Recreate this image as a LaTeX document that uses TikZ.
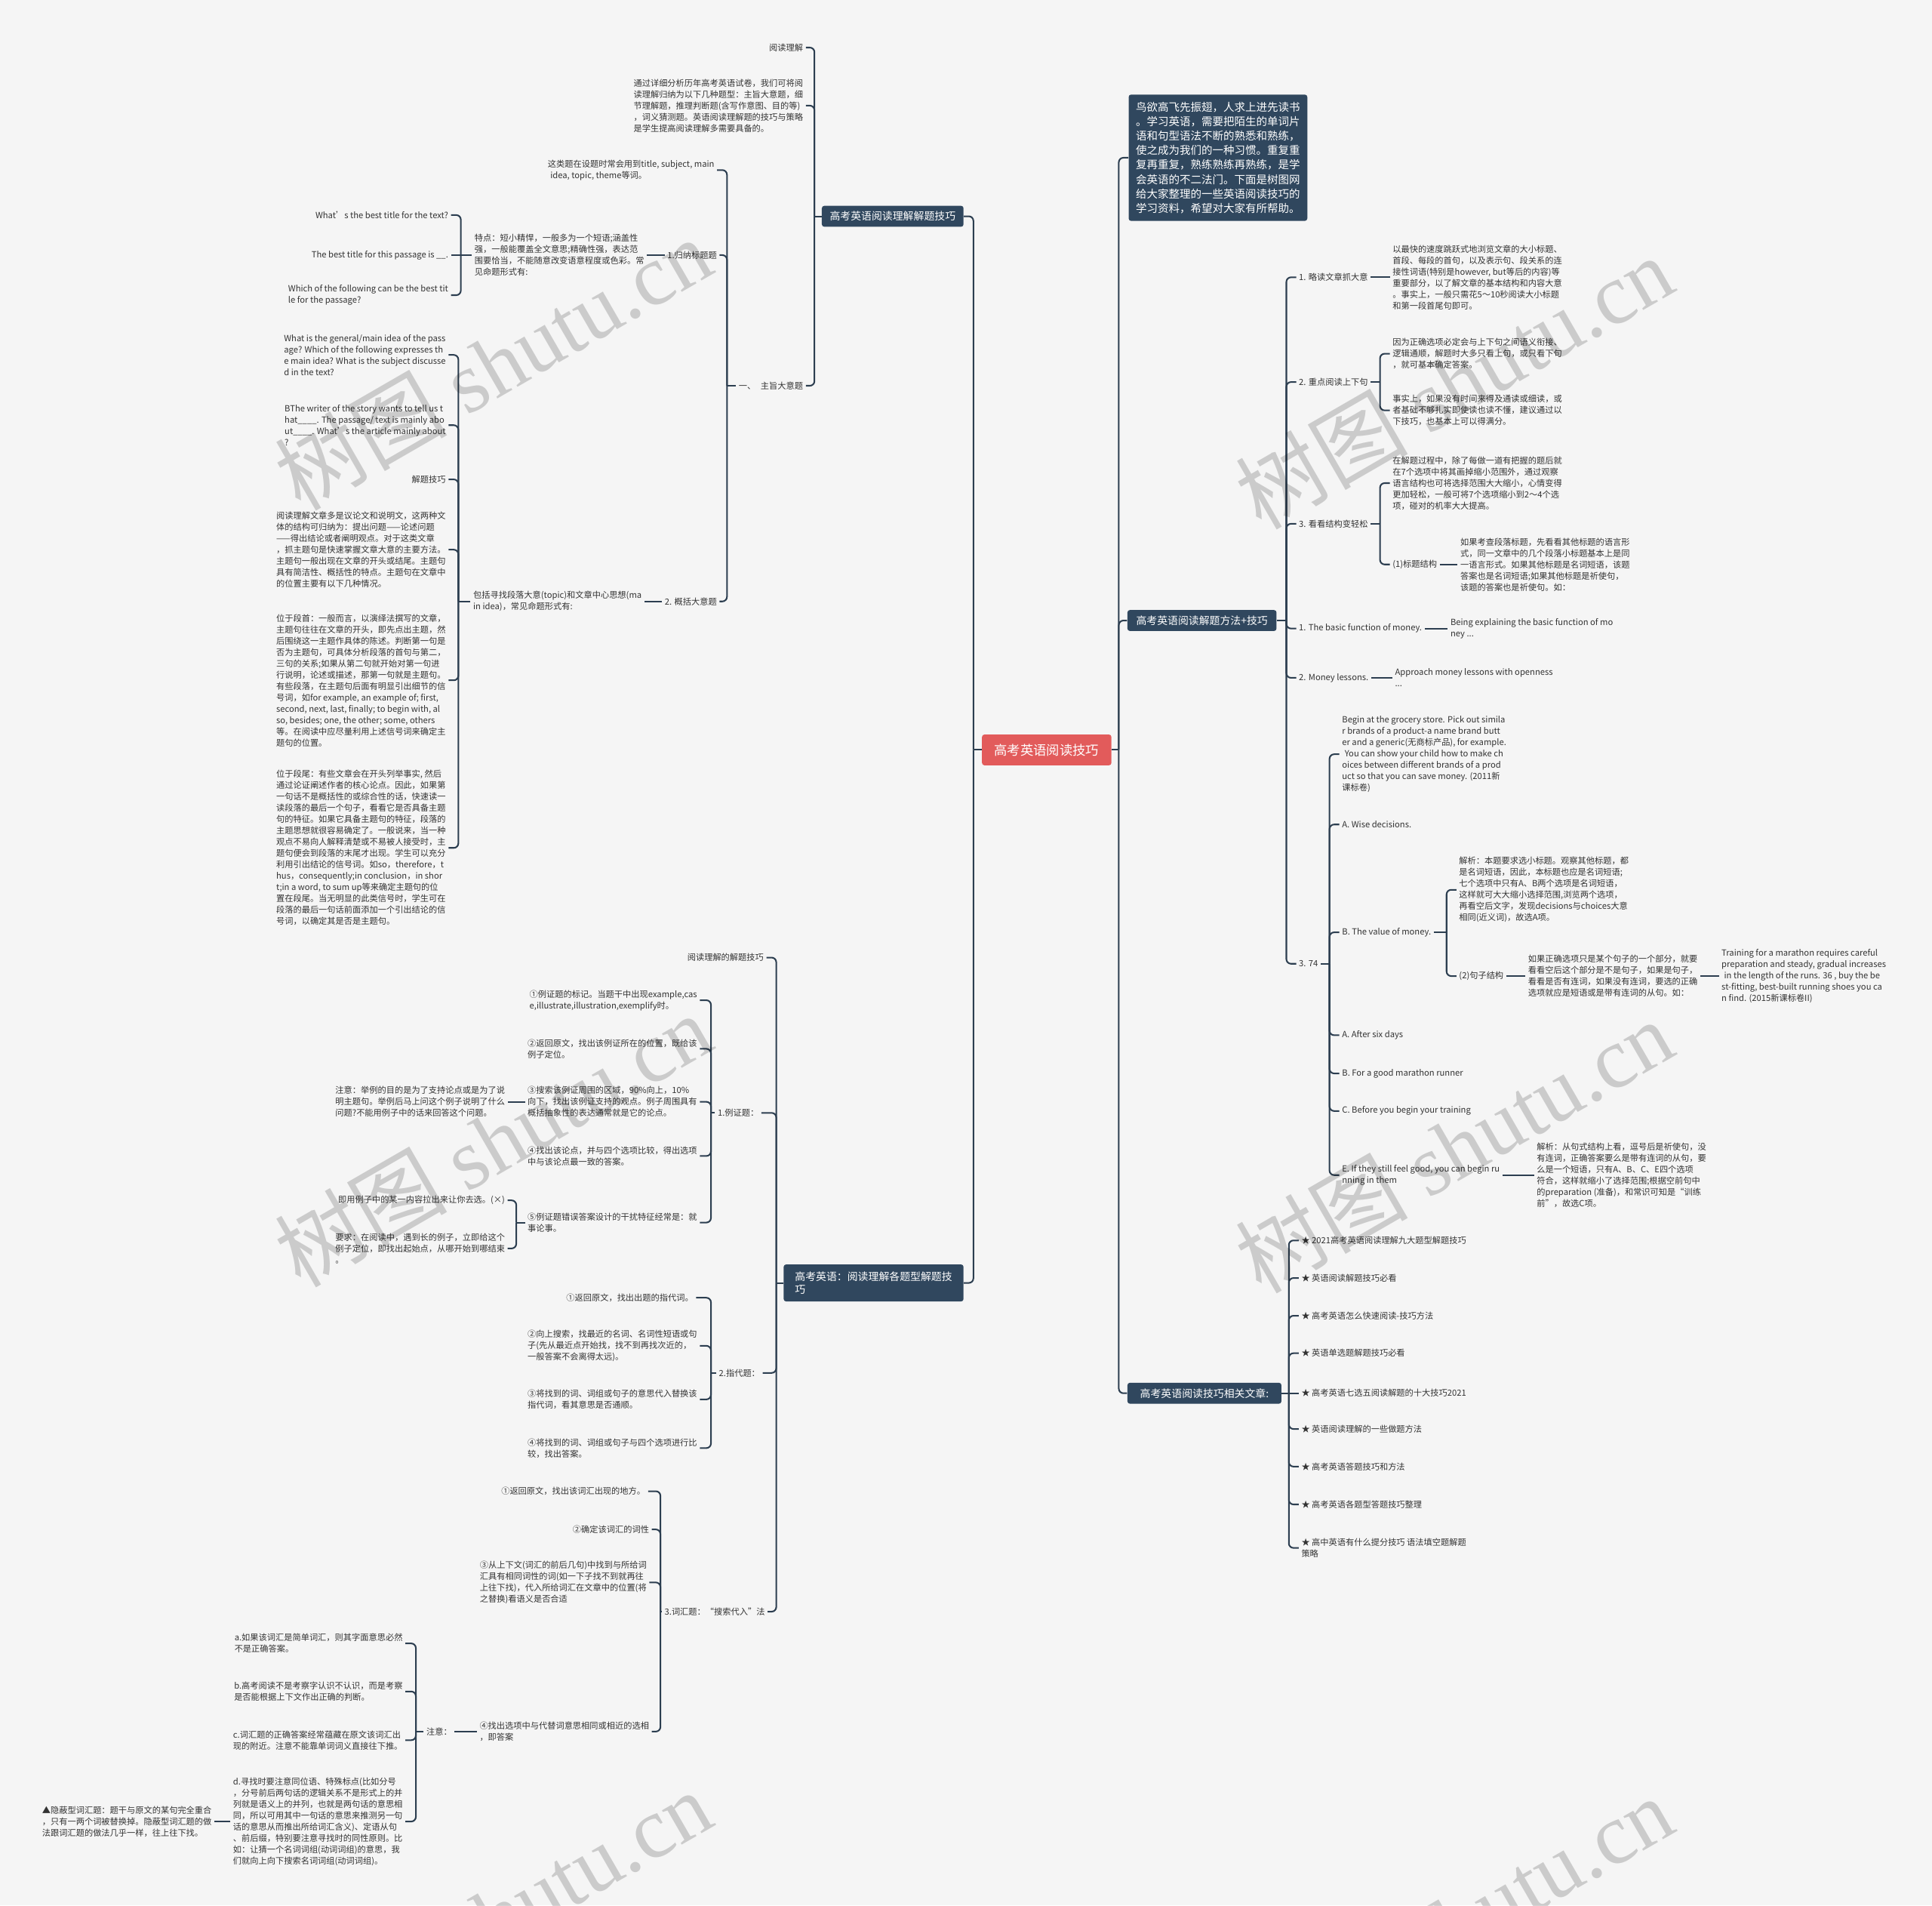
\documentclass[tikz,border=0pt]{standalone}
\usepackage{fontspec}
\setmainfont{Noto Sans CJK SC}
\newfontfamily\wmfont{Liberation Serif}
\usetikzlibrary{calc}
\definecolor{bgc}{HTML}{F5F5F5}
\definecolor{lc}{HTML}{2C3E50}
\definecolor{bc}{HTML}{30475E}
\definecolor{rc}{HTML}{E25B5B}
\definecolor{tc}{HTML}{333333}
\newcommand\brL[3]{%
  \coordinate (S) at (#2,0);
  \draw[conn] (#1.west) -- (#1.west -| S) coordinate (J);
  \foreach \cc in {#3}{\draw[conn,rounded corners=3pt] (J) |- (\cc.east);}%
}
\newcommand\brR[3]{%
  \coordinate (S) at (#2,0);
  \draw[conn] (#1.east) -- (#1.east -| S) coordinate (J);
  \foreach \cc in {#3}{\draw[conn,rounded corners=3pt] (J) |- (\cc.west);}%
}
\begin{document}
\begin{tikzpicture}[x=0.8pt,y=-0.8pt,
  conn/.style={draw=lc,line width=1pt},
  leaf/.style={font=\fontsize{5.5}{7.35}\selectfont,text=tc,inner xsep=1.6pt,inner ysep=0.5pt,align=left},
  lft/.style={leaf,anchor=east},
  rgt/.style={leaf,anchor=west},
  mbox/.style={fill=bc,text=white,rounded corners=1.6pt,font=\fontsize{6.8}{8.8}\selectfont,align=left,inner sep=0pt},
  wm/.style={font=\fontsize{56}{56}\selectfont,text=black,text opacity=0.17,rotate=30}]
\fill[bgc] (0,0) rectangle (1568,1546);
\useasboundingbox (0,0) rectangle (1568,1546);

% ---------- main nodes ----------
\node[fill=rc,text=white,rounded corners=1.6pt,font=\fontsize{8.5}{10}\selectfont,minimum width=84pt,minimum height=20pt,inner sep=0pt] (C) at (849.5,608.5) {高考英语阅读技巧};
\node[mbox,minimum width=92pt,minimum height=13.6pt] (B1) at (724.5,175.5) {高考英语阅读理解解题技巧};
\node[mbox,minimum width=116.8pt,minimum height=24pt] (B2) at (709,1041) {高考英语：阅读理解各题型解题技\\巧};
\node[mbox,minimum width=116pt,minimum height=82pt,font=\fontsize{7.1}{9.38}\selectfont] (I) at (988.5,128) {鸟欲高飞先振翅，人求上进先读书\\。学习英语，需要把陌生的单词片\\语和句型语法不断的熟悉和熟练，\\使之成为我们的一种习惯。重复重\\复再重复，熟练熟练再熟练，是学\\会英语的不二法门。下面是树图网\\给大家整理的一些英语阅读技巧的\\学习资料，希望对大家有所帮助。};
\node[mbox,minimum width=96.8pt,minimum height=13.6pt] (B3) at (975.5,503.5) {高考英语阅读解题方法+技巧};
\node[mbox,minimum width=100pt,minimum height=13.6pt] (B4) at (977.5,1130.5) {高考英语阅读技巧相关文章:};

% ---------- left top ----------
\node[lft] (yd) at (654,38.6) {阅读理解};
\node[lft] (tg) at (654,85.7) {通过详细分析历年高考英语试卷，我们可将阅\\读理解归纳为以下几种题型：主旨大意题，细\\节理解题，推理判断题(含写作意图、目的等)\\，词义猜测题。英语阅读理解题的技巧与策略\\是学生提高阅读理解多需要具备的。};
\node[lft] (zd) at (654,313) {一、\hspace{0.6em}主旨大意题};
\node[lft] (zl) at (582,138) {这类题在设题时常会用到title, subject, main\\\hspace*{0.3em}idea, topic, theme等词。};
\node[lft] (gn) at (584,207) {1.归纳标题题};
\node[lft] (td) at (525,207) {特点：短小精悍，一般多为一个短语;涵盖性\\强，一般能覆盖全文意思;精确性强，表达范\\围要恰当，不能随意改变语意程度或色彩。常\\见命题形式有:};
\node[lft] (w1) at (366,174.5) {What’s the best title for the text?};
\node[lft] (w2) at (366,207) {The best title for this passage is \_\_.};
\node[lft] (w3) at (366,239.5) {Which of the following can be the best tit\\le for the passage?};
\node[lft] (gk) at (584,488) {2. 概括大意题};
\node[lft] (bk) at (523,488) {包括寻找段落大意(topic)和文章中心思想(ma\\in idea)，常见命题形式有:};
\node[lft] (g1) at (364,288) {What is the general/main idea of the pass\\age? Which of the following expresses th\\e main idea? What is the subject discusse\\d in the text?};
\node[lft] (g2) at (364,345) {BThe writer of the story wants to tell us t\\hat\_\_\_\_. The passage/ text is mainly abo\\ut\_\_\_\_. What’s the article mainly about\\?};
\node[lft] (g3) at (364,389) {解题技巧};
\node[lft] (g4) at (364,446) {阅读理解文章多是议论文和说明文，这两种文\\体的结构可归纳为：提出问题——论述问题\\——得出结论或者阐明观点。对于这类文章\\，抓主题句是快速掌握文章大意的主要方法。\\主题句一般出现在文章的开头或结尾。主题句\\具有简洁性、概括性的特点。主题句在文章中\\的位置主要有以下几种情况。};
\node[lft] (g5) at (364,552) {位于段首：一般而言，以演绎法撰写的文章，\\主题句往往在文章的开头，即先点出主题，然\\后围绕这一主题作具体的陈述。判断第一句是\\否为主题句，可具体分析段落的首句与第二，\\三句的关系;如果从第二句就开始对第一句进\\行说明，论述或描述，那第一句就是主题句。\\有些段落，在主题句后面有明显引出细节的信\\号词，如for example, an example of; first,\\second, next, last, finally; to begin with, al\\so, besides; one, the other; some, others\\等。在阅读中应尽量利用上述信号词来确定主\\题句的位置。};
\node[lft] (g6) at (364,688) {位于段尾：有些文章会在开头列举事实, 然后\\通过论证阐述作者的核心论点。因此，如果第\\一句话不是概括性的或综合性的话，快速读一\\读段落的最后一个句子，看看它是否具备主题\\句的特征。如果它具备主题句的特征，段落的\\主题思想就很容易确定了。一般说来，当一种\\观点不易向人解释清楚或不易被人接受时，主\\题句便会到段落的末尾才出现。学生可以充分\\利用引出结论的信号词。如so，therefore，t\\hus，consequently;in conclusion，in shor\\t;in a word, to sum up等来确定主题句的位\\置在段尾。当无明显的此类信号时，学生可在\\段落的最后一句话前面添加一个引出结论的信\\号词，以确定其是否是主题句。};

% ---------- left bottom ----------
\node[lft] (j1) at (622,777) {阅读理解的解题技巧};
\node[lft] (lz) at (618,903) {1.例证题：};
\node[lft] (l1) at (568,811.6) {①例证题的标记。当题干中出现example,cas\\e,illustrate,illustration,exemplify时。};
\node[lft] (l2) at (568,851) {②返回原文，找出该例证所在的位置，既给该\\例子定位。};
\node[lft] (l3) at (568,894) {③搜索该例证周围的区域，90\%向上，10\%\\向下，找出该例证支持的观点。例子周围具有\\概括抽象性的表达通常就是它的论点。};
\node[lft] (l4) at (568,938) {④找出该论点，并与四个选项比较，得出选项\\中与该论点最一致的答案。};
\node[lft] (l5) at (568,992) {⑤例证题错误答案设计的干扰特征经常是：就\\事论事。};
\node[lft] (zy) at (412,894) {注意：举例的目的是为了支持论点或是为了说\\明主题句。举例后马上问这个例子说明了什么\\问题?不能用例子中的话来回答这个问题。};
\node[lft] (l5a) at (412,974) {即用例子中的某一内容拉出来让你去选。(×)};
\node[lft] (l5b) at (412,1013) {要求：在阅读中，遇到长的例子，立即给这个\\例子定位，即找出起始点，从哪开始到哪结束\\。};
\node[lft] (zd2) at (619,1114) {2.指代题：};
\node[lft] (p1) at (565,1053) {①返回原文，找出出题的指代词。};
\node[lft] (p2) at (568,1092) {②向上搜索，找最近的名词、名词性短语或句\\子(先从最近点开始找，找不到再找次近的，\\一般答案不会离得太远)。};
\node[lft] (p3) at (568,1135.5) {③将找到的词、词组或句子的意思代入替换该\\指代词，看其意思是否通顺。};
\node[lft] (p4) at (568,1175) {④将找到的词、词组或句子与四个选项进行比\\较，找出答案。};
\node[lft] (ch) at (623,1307.7) {3.词汇题：“搜索代入”法};
\node[lft] (c1) at (526,1210) {①返回原文，找出该词汇出现的地方。};
\node[lft] (c2) at (529,1241) {②确定该词汇的词性};
\node[lft] (c3) at (527,1284) {③从上下文(词汇的前后几句)中找到与所给词\\汇具有相同词性的词(如一下子找不到就再往\\上往下找)，代入所给词汇在文章中的位置(将\\之替换)看语义是否合适};
\node[lft] (c4) at (529,1405) {④找出选项中与代替词意思相同或相近的选相\\，即答案};
\node[lft] (zy2) at (369,1405) {注意：};
\node[lft] (na) at (329,1333.5) {a.如果该词汇是简单词汇，则其字面意思必然\\不是正确答案。};
\node[lft] (nb) at (329,1372.5) {b.高考阅读不是考察字认识不认识，而是考察\\是否能根据上下文作出正确的判断。};
\node[lft] (nc) at (329,1412) {c.词汇题的正确答案经常蕴藏在原文该词汇出\\现的附近。注意不能靠单词词义直接往下推。};
\node[lft] (nd) at (329,1478) {d.寻找时要注意同位语、特殊标点(比如分号\\，分号前后两句话的逻辑关系不是形式上的并\\列就是语义上的并列，也就是两句话的意思相\\同，所以可用其中一句话的意思来推测另一句\\话的意思从而推出所给词汇含义)、定语从句\\、前后缀，特别要注意寻找时的同性原则。比\\如：让猜一个名词词组(动词词组)的意思，我\\们就向上向下搜索名词词组(动词词组)。};
\node[lft] (yb) at (174,1478) {▲隐蔽型词汇题：题干与原文的某句完全重合\\，只有一两个词被替换掉。隐蔽型词汇题的做\\法跟词汇题的做法几乎一样，往上往下找。};

% ---------- right ----------
\node[rgt] (r1) at (1052,225) {1. 略读文章抓大意};
\node[rgt] (r1t) at (1128,225) {以最快的速度跳跃式地浏览文章的大小标题、\\首段、每段的首句，以及表示句、段关系的连\\接性词语(特别是however, but等后的内容)等\\重要部分，以了解文章的基本结构和内容大意\\。事实上，一般只需花5～10秒阅读大小标题\\和第一段首尾句即可。};
\node[rgt] (r2) at (1052,310) {2. 重点阅读上下句};
\node[rgt] (r2a) at (1128,287) {因为正确选项必定会与上下句之间语义衔接、\\逻辑通顺，解题时大多只看上句，或只看下句\\，就可基本确定答案。};
\node[rgt] (r2b) at (1128,333) {事实上，如果没有时间来得及通读或细读，或\\者基础不够扎实即使读也读不懂，建议通过以\\下技巧，也基本上可以得满分。};
\node[rgt] (r3) at (1052,425) {3. 看看结构变轻松};
\node[rgt] (r3a) at (1128,392) {在解题过程中，除了每做一道有把握的题后就\\在7个选项中将其画掉缩小范围外，通过观察\\语言结构也可将选择范围大大缩小，心情变得\\更加轻松，一般可将7个选项缩小到2～4个选\\项，碰对的机率大大提高。};
\node[rgt] (r3b) at (1128,458) {(1)标题结构};
\node[rgt] (r3c) at (1183,458) {如果考查段落标题，先看看其他标题的语言形\\式，同一文章中的几个段落小标题基本上是同\\一语言形式。如果其他标题是名词短语，该题\\答案也是名词短语;如果其他标题是祈使句，\\该题的答案也是祈使句。如：};
\node[rgt] (r4) at (1052,510) {1. The basic function of money.};
\node[rgt] (r4a) at (1175,510) {Being explaining the basic function of mo\\ney ...};
\node[rgt] (r5) at (1052,550) {2. Money lessons.};
\node[rgt] (r5a) at (1130,550) {Approach money lessons with openness\\...};
\node[rgt] (r6) at (1052,782) {3. 74};
\node[rgt] (s1) at (1087,612) {Begin at the grocery store. Pick out simila\\r brands of a product-a name brand butt\\er and a generic(无商标产品), for example.\\\hspace*{0.3em}You can show your child how to make ch\\oices between different brands of a prod\\uct so that you can save money. (2011新\\课标卷)};
\node[rgt] (s2) at (1087,669) {A. Wise decisions.};
\node[rgt] (s3) at (1087,756.5) {B. The value of money.};
\node[rgt] (s3a) at (1182,722) {解析：本题要求选小标题。观察其他标题，都\\是名词短语，因此，本标题也应是名词短语;\\七个选项中只有A、B两个选项是名词短语，\\这样就可大大缩小选择范围,浏览两个选项，\\再看空后文字，发现decisions与choices大意\\相同(近义词)，故选A项。};
\node[rgt] (s3b) at (1182,792) {(2)句子结构};
\node[rgt] (s3c) at (1238,792) {如果正确选项只是某个句子的一个部分，就要\\看看空后这个部分是不是句子，如果是句子，\\看看是否有连词，如果没有连词，要选的正确\\选项就应是短语或是带有连词的从句。如：};
\node[rgt] (s3d) at (1395,792) {Training for a marathon requires careful\\preparation and steady, gradual increases\\\hspace*{0.3em}in the length of the runs. 36 , buy the be\\st-fitting, best-built running shoes you ca\\n find. (2015新课标卷II)};
\node[rgt] (s4) at (1087,840) {A. After six days};
\node[rgt] (s5) at (1087,871) {B. For a good marathon runner};
\node[rgt] (s6) at (1087,901.5) {C. Before you begin your training};
\node[rgt] (s7) at (1087,953.5) {E. If they still feel good, you can begin ru\\nning in them};
\node[rgt] (s7a) at (1245,953.5) {解析：从句式结构上看，逗号后是祈使句，没\\有连词，正确答案要么是带有连词的从句，要\\么是一个短语，只有A、B、C、E四个选项\\符合，这样就缩小了选择范围;根据空前句中\\的preparation (准备)，和常识可知是“训练\\前”，故选C项。};
\node[rgt] (a1) at (1054,1006.5) {★ 2021高考英语阅读理解九大题型解题技巧};
\node[rgt] (a2) at (1054,1037) {★ 英语阅读解题技巧必看};
\node[rgt] (a3) at (1054,1067.6) {★ 高考英语怎么快速阅读-技巧方法};
\node[rgt] (a4) at (1054,1098) {★ 英语单选题解题技巧必看};
\node[rgt] (a5) at (1054,1130.5) {★ 高考英语七选五阅读解题的十大技巧2021};
\node[rgt] (a6) at (1054,1159.5) {★ 英语阅读理解的一些做题方法};
\node[rgt] (a7) at (1054,1190) {★ 高考英语答题技巧和方法};
\node[rgt] (a8) at (1054,1220.7) {★ 高考英语各题型答题技巧整理};
\node[rgt] (a9) at (1054,1256) {★ 高中英语有什么提分技巧 语法填空题解题\\策略};

% ---------- connectors ----------
\brL{C}{790}{B1,B2}
\brR{C}{908}{I,B3,B4}
\brL{B1}{661}{yd,tg,zd}
\brL{zd}{590}{zl,gn,gk}
\draw[conn] (gn.west) -- (td.east);
\brL{td}{374}{w1,w3}
\draw[conn] (J) -- (w2.east);
\draw[conn] (gk.west) -- (bk.east);
\brL{bk}{372}{g1,g2,g3,g4,g5,g6}
\brL{B2}{630}{j1,lz,zd2,ch}
\brL{lz}{577}{l1,l2,l3,l4,l5}
\draw[conn] (l3.west) -- (zy.east);
\brL{l5}{419}{l5a,l5b}
\brL{zd2}{577}{p1,p2,p3,p4}
\brL{ch}{536}{c1,c2,c3,c4}
\draw[conn] (c4.west) -- (zy2.east);
\brL{zy2}{337.5}{na,nb,nc,nd}
\draw[conn] (nd.west) -- (yb.east);
\brR{B3}{1044}{r1,r2,r3,r4,r5,r6}
\draw[conn] (r1.east) -- (r1t.west);
\brR{r2}{1120}{r2a,r2b}
\brR{r3}{1120}{r3a,r3b}
\draw[conn] (r3b.east) -- (r3c.west);
\draw[conn] (r4.east) -- (r4a.west);
\draw[conn] (r5.east) -- (r5a.west);
\brR{r6}{1079}{s1,s2,s3,s4,s5,s6,s7}
\brR{s3}{1174}{s3a,s3b}
\draw[conn] (s3b.east) -- (s3c.west);
\draw[conn] (s3c.east) -- (s3d.west);
\draw[conn] (s7.east) -- (s7a.west);
\brR{B4}{1046}{a1,a2,a3,a4,a6,a7,a8,a9}
\draw[conn] (J) -- (a5.west);

% ---------- watermarks ----------
\node[wm] (wm1) at (400,295) {树图 {\wmfont shutu.cn}};
\node[wm] (wm2) at (400,925) {树图 {\wmfont shutu.cn}};
\node[wm] (wm3) at (400,1555) {树图 {\wmfont shutu.cn}};
\node[wm] (wm4) at (1180,310) {树图 {\wmfont shutu.cn}};
\node[wm] (wm5) at (1180,930) {树图 {\wmfont shutu.cn}};
\node[wm] (wm6) at (1180,1560) {树图 {\wmfont shutu.cn}};
\end{tikzpicture}
\end{document}
